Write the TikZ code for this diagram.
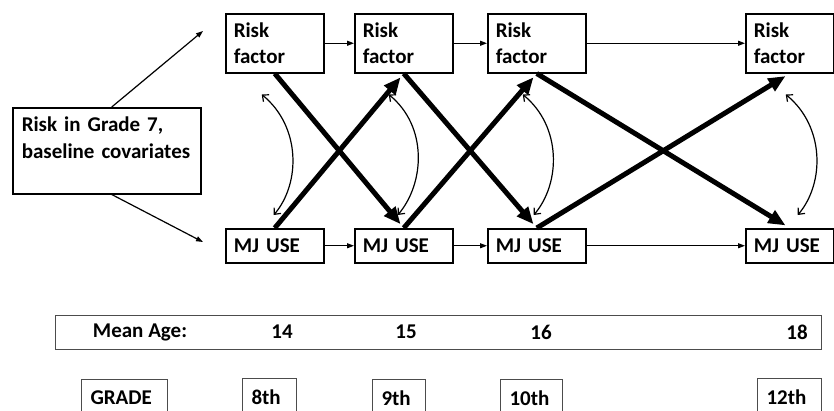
\documentclass[tikz,border=0pt]{standalone}
\usepackage{fontspec}
\setmainfont{Carlito}
\usetikzlibrary{arrows.meta,positioning}
\tikzset{
  every picture/.style={line width=1.5pt,font=\fontsize{21}{26.5}\selectfont\bfseries},
  bx/.style={draw=black,line width=1.5pt,align=left,inner xsep=8pt,inner ysep=0pt,anchor=north west},
  rf/.style={bx,text width=82pt,minimum height=59pt},
  mj/.style={bx,text width=82pt,minimum height=34pt},
  gbx/.style={draw=black!70,line width=1pt,align=left,inner xsep=9pt,inner ysep=0pt,minimum height=38pt,anchor=north west},
  seq/.style={-{Triangle[length=7pt,width=5pt]},line width=1.2pt},
  cross/.style={-{Triangle[length=17pt,width=14pt]},line width=5pt,shorten >=5pt},
  cov/.style={{Straight Barb[length=5pt,width=9pt]}-{Straight Barb[length=5pt,width=9pt]},line width=1.2pt},
}
\begin{document}
\begin{tikzpicture}[x=1pt,y=-1pt]
  \useasboundingbox (0,0) rectangle (834,410);
  \clip (0,0) rectangle (834,410);
  \node[bx,inner xsep=9pt,text width=170pt,minimum height=86pt] (base) at (12,107) {Risk in Grade 7,\\baseline covariates\\~};
  \foreach \i/\x/\w in {1/225/82,2/354/82,3/487/82,4/745/72} {
    \node[rf,text width=\w pt] (rf\i) at (\x,13) {Risk\\factor};
    \node[mj,text width=\w pt] (mj\i) at (\x,228) {MJ USE};
  }
  \coordinate (tu) at (203,31);
  \coordinate (td) at (203,242);
  \draw[seq] ([xshift=5pt]base.north) -- (tu);
  \draw[seq] ([xshift=5pt]base.south) -- (td);
  \foreach \a/\b in {1/2,2/3,3/4} {
    \draw[seq] (rf\a) -- (rf\b);
    \draw[seq] (mj\a) -- (mj\b);
  }
  \foreach \a/\b in {1/2,2/3,3/4} {
    \draw[cross] (rf\a.south) -- (mj\b.north);
    \draw[cross] (mj\a.north) -- (rf\b.south);
  }
  \foreach \i/\dx/\ex in {1/-13/-1,2/-15/-6,3/-14/-3,4/-4/8}
    \draw[cov] ([xshift=\dx pt,yshift=-21pt]rf\i.south) .. controls +(39,32) and +(27,-32) .. ([xshift=\ex pt,yshift=13pt]mj\i.north);
  \node[gbx,minimum width=766pt,minimum height=34pt] (agebar) at (55,315) {};
  \foreach \x/\t in {140/Mean Age:,282/14,406/15,541/16,797/18}
    \node (age\x) at (\x,332) {\t};
  \foreach \x/\y/\w/\t in {81/378.5/68/GRADE,242/378/36/8th,372/379/35/9th,500/379/44/10th,757/378/46/12th}
    \node[gbx,text width=\w pt] (gr\x) at (\x,\y) {\t};
\end{tikzpicture}
\end{document}
